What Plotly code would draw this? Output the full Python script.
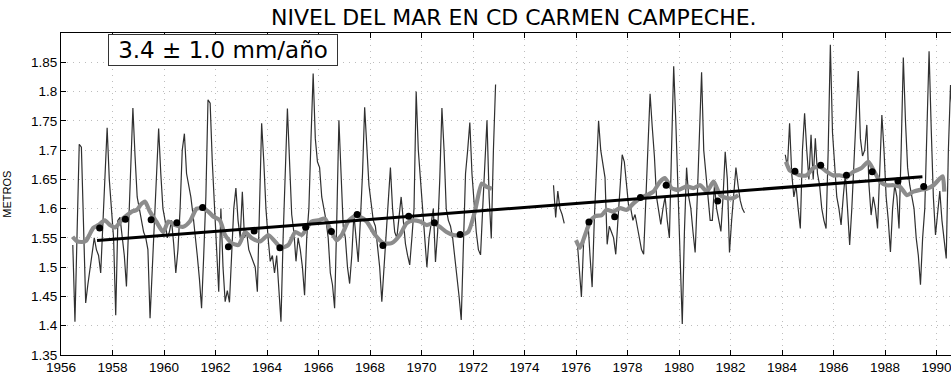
import plotly.graph_objects as go

# ---------------------------------------------------------------
# Monthly mean sea level at Cd. Carmen, Campeche (metres).
# Each record: first year, first month, then consecutive months.
# ---------------------------------------------------------------
rec1_start = (1956, 6)
rec1_values = [
    1.538, 1.407, 1.56, 1.71, 1.705, 1.58, 1.439,                                  # 1956
    1.47, 1.50, 1.526, 1.55, 1.53, 1.52, 1.49, 1.57, 1.66, 1.738, 1.65, 1.601,     # 1957
    1.55, 1.418, 1.58, 1.585, 1.55, 1.52, 1.467, 1.56, 1.68, 1.772, 1.69, 1.62,    # 1958
    1.60, 1.58, 1.56, 1.55, 1.53, 1.413, 1.50, 1.58, 1.65, 1.737, 1.66, 1.60,      # 1959
    1.58, 1.55, 1.56, 1.58, 1.54, 1.49, 1.53, 1.60, 1.70, 1.728, 1.66, 1.64,       # 1960
    1.62, 1.59, 1.56, 1.52, 1.48, 1.43, 1.52, 1.62, 1.786, 1.78, 1.68, 1.60,       # 1961
    1.52, 1.458, 1.60, 1.50, 1.441, 1.46, 1.44, 1.52, 1.60, 1.635, 1.58, 1.55,     # 1962
    1.629, 1.55, 1.56, 1.53, 1.52, 1.51, 1.50, 1.458, 1.61, 1.746, 1.68, 1.60,     # 1963
    1.55, 1.51, 1.52, 1.49, 1.52, 1.47, 1.407, 1.55, 1.66, 1.771, 1.68, 1.59,      # 1964
    1.56, 1.51, 1.55, 1.53, 1.50, 1.452, 1.55, 1.60, 1.72, 1.831, 1.72, 1.68,      # 1965
    1.67, 1.62, 1.60, 1.58, 1.55, 1.49, 1.47, 1.43, 1.58, 1.751, 1.66, 1.57,       # 1966
    1.55, 1.50, 1.472, 1.52, 1.59, 1.55, 1.509, 1.58, 1.66, 1.773, 1.70, 1.64,     # 1967
    1.61, 1.58, 1.57, 1.53, 1.50, 1.441, 1.50, 1.55, 1.60, 1.67, 1.60, 1.56,       # 1968
    1.55, 1.58, 1.62, 1.58, 1.54, 1.52, 1.504, 1.55, 1.60, 1.80, 1.70, 1.65,       # 1969
    1.60, 1.55, 1.50, 1.55, 1.58, 1.60, 1.509, 1.56, 1.65, 1.772, 1.70, 1.60,      # 1970
    1.58, 1.57, 1.55, 1.52, 1.48, 1.45, 1.41, 1.55, 1.66, 1.70, 1.747, 1.66,       # 1971
    1.60, 1.56, 1.53, 1.521, 1.60, 1.68, 1.751, 1.62, 1.549, 1.70, 1.812,          # 1972
]

rec2_start = (1975, 2)
rec2_values = [1.64, 1.585, 1.63, 1.60, 1.59, 1.575]

rec3_start = (1976, 1)
rec3_values = [
    1.547, 1.50, 1.449, 1.54, 1.56, 1.581, 1.52, 1.466, 1.58, 1.66, 1.75, 1.70,    # 1976
    1.68, 1.653, 1.539, 1.57, 1.56, 1.55, 1.522, 1.58, 1.64, 1.692, 1.68, 1.64,    # 1977
    1.604, 1.60, 1.58, 1.59, 1.57, 1.55, 1.53, 1.522, 1.62, 1.72, 1.796, 1.74,     # 1978
    1.69, 1.62, 1.60, 1.573, 1.60, 1.62, 1.58, 1.55, 1.70, 1.843, 1.747, 1.62,     # 1979
    1.52, 1.403, 1.56, 1.67, 1.62, 1.60, 1.56, 1.525, 1.62, 1.72, 1.833, 1.70,     # 1980
    1.66, 1.62, 1.58, 1.58, 1.64, 1.60, 1.58, 1.561, 1.62, 1.697, 1.65, 1.525,     # 1981
    1.58, 1.62, 1.67, 1.64, 1.614, 1.60, 1.593,                                    # 1982
]

rec4_start = (1984, 2)
rec4_values = [
    1.692, 1.67, 1.746, 1.66, 1.62, 1.64, 1.60, 1.566, 1.70, 1.763, 1.70,          # 1984
    1.65, 1.726, 1.65, 1.72, 1.66, 1.64, 1.60, 1.58, 1.566, 1.70, 1.88, 1.73,      # 1985
    1.67, 1.62, 1.60, 1.572, 1.62, 1.66, 1.60, 1.538, 1.60, 1.68, 1.745, 1.835,    # 1986
    1.72, 1.69, 1.70, 1.743, 1.64, 1.589, 1.62, 1.60, 1.566, 1.66, 1.76, 1.70,     # 1987
    1.62, 1.58, 1.526, 1.60, 1.64, 1.62, 1.566, 1.70, 1.858, 1.75, 1.67, 1.64,     # 1988
    1.62, 1.60, 1.55, 1.52, 1.47, 1.55, 1.60, 1.72, 1.869, 1.737, 1.62, 1.555,     # 1989
    1.60, 1.63, 1.58, 1.55, 1.515, 1.70, 1.811, 1.75,                              # 1990
]

# Running (12-month) mean, sampled along each record
smooth1_years = [1956.45, 1956.6, 1956.8, 1956.97, 1957.1, 1957.25, 1957.45, 1957.7, 1957.9,
                 1958.1, 1958.4, 1958.6, 1958.75, 1958.95, 1959.1, 1959.26, 1959.45, 1959.7,
                 1959.97, 1960.17, 1960.43, 1960.75, 1961.0, 1961.27, 1961.53, 1961.72, 1961.9,
                 1962.17, 1962.37, 1962.63, 1962.9, 1963.15, 1963.4, 1963.73, 1964.05, 1964.31,
                 1964.55, 1964.83, 1965.1, 1965.35, 1965.73, 1965.99, 1966.25, 1966.5, 1966.7,
                 1966.9, 1967.15, 1967.4, 1967.6, 1967.87, 1968.2, 1968.52, 1968.84, 1969.16,
                 1969.42, 1969.68, 1969.94, 1970.2, 1970.45, 1970.71, 1970.97, 1971.23, 1971.49,
                 1971.81, 1972.07, 1972.34, 1972.53, 1972.73]
smooth1_values = [1.552, 1.545, 1.543, 1.545, 1.555, 1.567, 1.572, 1.58, 1.572,
                  1.568, 1.583, 1.59, 1.595, 1.598, 1.607, 1.612, 1.595, 1.578,
                  1.56, 1.578, 1.572, 1.569, 1.578, 1.60, 1.60, 1.595, 1.587,
                  1.58, 1.555, 1.541, 1.538, 1.56, 1.55, 1.544, 1.555, 1.544,
                  1.533, 1.538, 1.56, 1.555, 1.578, 1.58, 1.583, 1.56, 1.546,
                  1.555, 1.578, 1.587, 1.586, 1.578, 1.555, 1.541, 1.541, 1.555,
                  1.575, 1.58, 1.578, 1.572, 1.575, 1.569, 1.56, 1.555, 1.555,
                  1.56, 1.595, 1.643, 1.637, 1.634]

smooth3_years = [1976.0, 1976.15, 1976.35, 1976.55, 1976.74, 1977.0, 1977.19, 1977.45, 1977.71,
                 1977.97, 1978.23, 1978.49, 1978.75, 1979.0, 1979.26, 1979.45, 1979.71, 1979.97,
                 1980.3, 1980.56, 1980.82, 1981.08, 1981.34, 1981.6, 1981.86, 1982.12, 1982.3]
smooth3_values = [1.546, 1.533, 1.555, 1.578, 1.587, 1.589, 1.598, 1.595, 1.601,
                  1.598, 1.609, 1.618, 1.623, 1.629, 1.646, 1.652, 1.635, 1.632,
                  1.638, 1.635, 1.64, 1.629, 1.646, 1.623, 1.618, 1.618, 1.623]

smooth4_years = [1984.15, 1984.3, 1984.45, 1984.7, 1984.96, 1985.2, 1985.45, 1985.71, 1985.97,
                 1986.23, 1986.49, 1986.81, 1987.07, 1987.35, 1987.55, 1987.81, 1988.07, 1988.33,
                 1988.59, 1988.85, 1989.1, 1989.36, 1989.62, 1989.88, 1990.14, 1990.24, 1990.3]
smooth4_values = [1.68, 1.665, 1.662, 1.657, 1.657, 1.669, 1.672, 1.664, 1.657,
                  1.657, 1.655, 1.664, 1.669, 1.68, 1.666, 1.646, 1.64, 1.64,
                  1.637, 1.623, 1.629, 1.632, 1.634, 1.64, 1.652, 1.655, 1.629]

# Annual means (plotted at mid-year)
annual_years = [1957, 1958, 1959, 1960, 1961, 1962, 1963, 1964, 1965, 1966, 1967, 1968, 1969,
                1970, 1971, 1976, 1977, 1978, 1979, 1981, 1984, 1985, 1986, 1987, 1988, 1989]
annual_means = [1.567, 1.582, 1.581, 1.576, 1.602, 1.535, 1.562, 1.533, 1.568, 1.561, 1.590,
                1.537, 1.587, 1.576, 1.556, 1.577, 1.586, 1.619, 1.640, 1.613, 1.664, 1.674,
                1.657, 1.663, 1.647, 1.638]

# Linear trend: 3.4 mm/year
trend_rate_mm = 3.4
trend_ref_year = 1973.42
trend_ref_level = 1.600
trend_span = [1957.4, 1989.45]

x_ticks = list(range(1956, 1991, 2))
y_ticks = [1.35, 1.40, 1.45, 1.50, 1.55, 1.60, 1.65, 1.70, 1.75, 1.80, 1.85]
y_ticktext = ["1.35", "1.4", "1.45", "1.5", "1.55", "1.6", "1.65", "1.7", "1.75", "1.8", "1.85"]


def monthly_times(start, n):
    y0, m0 = start
    return [y0 + (m0 - 1 + i + 0.5) / 12.0 for i in range(n)]


fig = go.Figure()

# thin monthly series
for start, vals in [(rec1_start, rec1_values), (rec2_start, rec2_values),
                    (rec3_start, rec3_values), (rec4_start, rec4_values)]:
    fig.add_trace(go.Scatter(x=monthly_times(start, len(vals)), y=vals, mode="lines",
                             line=dict(color="#303030", width=1.2), showlegend=False,
                             hoverinfo="skip"))

# thick grey running mean
for yrs, vals in [(smooth1_years, smooth1_values), (smooth3_years, smooth3_values),
                  (smooth4_years, smooth4_values)]:
    fig.add_trace(go.Scatter(x=yrs, y=vals, mode="lines",
                             line=dict(color="#8c8c8c", width=4.2, shape="spline", smoothing=0.6),
                             showlegend=False, hoverinfo="skip"))

# annual means
fig.add_trace(go.Scatter(x=[y + 0.5 for y in annual_years], y=annual_means, mode="markers",
                         marker=dict(color="black", size=7, symbol="circle"),
                         showlegend=False, hoverinfo="skip"))

# trend line
rate_m = trend_rate_mm / 1000.0
fig.add_trace(go.Scatter(x=trend_span,
                         y=[trend_ref_level + rate_m * (t - trend_ref_year) for t in trend_span],
                         mode="lines", line=dict(color="black", width=3),
                         showlegend=False, hoverinfo="skip"))

grid_style = dict(showgrid=True, gridcolor="#bdbdbd", griddash="1px,5px", gridwidth=1)

fig.update_layout(
    width=951, height=376,
    margin=dict(l=61, r=0, t=33, b=21),
    paper_bgcolor="white", plot_bgcolor="white",
    font=dict(family="Liberation Sans, Arial, sans-serif", color="black"),
    xaxis=dict(range=[1956, 1990.56], tickvals=x_ticks, ticks="inside", ticklen=5,
               tickcolor="black", showline=True, linecolor="black", linewidth=1,
               mirror="ticks", zeroline=False, tickfont=dict(size=13.5),
               ticklabeloverflow="allow", **grid_style),
    yaxis=dict(range=[1.35, 1.90], tickvals=y_ticks, ticktext=y_ticktext, ticks="inside",
               ticklen=5, tickcolor="black", showline=True, linecolor="black", linewidth=1,
               mirror=False, zeroline=False, tickfont=dict(size=13.5), **grid_style),
    annotations=[
        dict(text="NIVEL DEL MAR EN CD CARMEN CAMPECHE.", xref="paper", yref="paper",
             x=0.509, y=1.0466, xanchor="center", yanchor="middle", showarrow=False,
             font=dict(family="DejaVu Sans", size=22, color="black")),
        dict(text="METROS", xref="paper", yref="paper", x=-0.061, y=0.5, textangle=-90,
             xanchor="center", yanchor="middle", showarrow=False,
             font=dict(size=11, color="black")),
        dict(text="3.4 ± 1.0 mm/año", xref="x", yref="y", x=1962.29, y=1.871,
             xanchor="center", yanchor="middle", showarrow=False,
             font=dict(family="DejaVu Sans", size=23, color="black"),
             bordercolor="#333333", borderwidth=1, borderpad=3, bgcolor="white",
             width=222, height=24),
    ],
)

fig.write_html("out.html")
